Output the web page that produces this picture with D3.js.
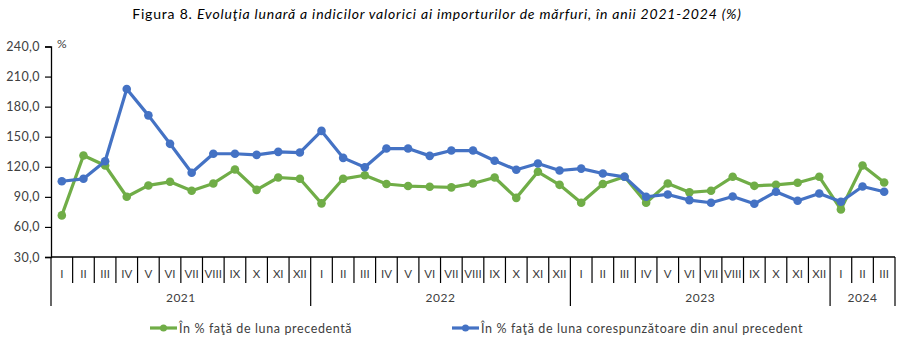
<!DOCTYPE html>
<html><head><meta charset="utf-8">
<script src="https://cdn.jsdelivr.net/npm/d3@7"></script>
<style>
body{margin:0;background:#fff;}
svg{display:block;font-family:Lato,"Open Sans",sans-serif;}
</style></head>
<body><svg id="c" width="897" height="343"></svg>
<script>
const months = ["I","II","III","IV","V","VI","VII","VIII","IX","X","XI","XII",
"I","II","III","IV","V","VI","VII","VIII","IX","X","XI","XII",
"I","II","III","IV","V","VI","VII","VIII","IX","X","XI","XII",
"I","II","III"];
const years = ["2021","2022","2023","2024"];
const yearCounts = [12,12,12,3];
const prevMonth = [71.5,131.2,121.3,90.1,101.4,105,96.1,103.4,117.3,97,109.3,108,
83.5,108,111.6,102.8,100.8,100.1,99.5,103.4,109.3,89,115,102,
84.1,102.8,110,84.1,103.4,94.5,96.1,110,101,102,104,110,
77.5,121.3,104.3];
const prevYear = [105.6,108,125.5,197.6,171.3,142.9,114,133,133,131.9,134.9,134.2,
155.8,128.9,119.6,138.2,138.2,130.9,136.2,136.2,126,117,123.3,116.3,
118.2,113.3,110,90.1,92.4,86.7,84.1,90.4,83.1,95.1,86.1,93.4,
85.1,100.4,95.1];
const yTicks = [30,60,90,120,150,180,210,240];
const seriesNames = ["În % faţă de luna precedentă","În % faţă de luna corespunzătoare din anul precedent"];
const colors = ["#70AD47","#4472C4"];

(function(){
const svg = d3.select("#c");
const L = 51, R = 895, T = 46.5, B = 257;
const idx = months.map((m,i)=>i);
const x = d3.scaleBand().domain(idx).range([L,R]).padding(0);
const y = d3.scaleLinear().domain([30,240]).range([B,T]);
const txt = "#404040";

// title
const title = svg.append("text").attr("x",437).attr("y",19).attr("text-anchor","middle")
  .attr("font-size",14).attr("letter-spacing",0.8).attr("fill","#000");
title.append("tspan").text("Figura 8. ");
title.append("tspan").attr("font-style","italic").text("Evoluţia lunară a indicilor valorici ai importurilor de mărfuri, în anii 2021-2024 (%)");

// y axis
const loc = d3.formatLocale({decimal:",",thousands:".",grouping:[3],currency:["",""]});
const fmt = loc.format(".1f");
const ya = svg.append("g").attr("transform",`translate(${L},0)`)
  .call(d3.axisLeft(y).tickValues(yTicks).tickFormat(fmt).tickSize(6).tickPadding(5));
ya.select(".domain").attr("stroke","#000").attr("stroke-width",1.3);
ya.selectAll(".tick line").attr("stroke","#000").attr("stroke-width",1.2);
ya.selectAll(".tick text").attr("font-size",12.5).attr("letter-spacing",0.4).attr("fill",txt).attr("font-family","Lato,sans-serif");

svg.append("text").attr("x",57).attr("y",48).attr("font-size",12).attr("fill",txt).text("%");

// x axis
const xa = svg.append("g");
xa.append("line").attr("x1",L).attr("x2",R).attr("y1",B).attr("y2",B)
  .attr("stroke","#000").attr("stroke-width",1.3);
let starts = []; let acc = 0;
yearCounts.forEach(c=>{starts.push(acc); acc+=c;});
const yearBoundaries = new Set(starts.concat([months.length]));
for(let i=0;i<=months.length;i++){
  const xx = i<months.length ? x(i) : x(months.length-1)+x.bandwidth();
  const long = yearBoundaries.has(i);
  xa.append("line").attr("x1",xx).attr("x2",xx).attr("y1",B).attr("y2",long?306:283)
    .attr("stroke","#000").attr("stroke-width",1.2);
}
xa.selectAll("text.m").data(months).enter().append("text").attr("class","m")
  .attr("x",(d,i)=>x(i)+x.bandwidth()/2).attr("y",278).attr("text-anchor","middle")
  .attr("font-size",11.5).attr("fill",txt).text(d=>d);
xa.selectAll("text.yr").data(years).enter().append("text").attr("class","yr")
  .attr("x",(d,i)=>{const s=x(starts[i]); const e=x(starts[i]+yearCounts[i]-1)+x.bandwidth(); return (s+e)/2;})
  .attr("y",302).attr("text-anchor","middle").attr("font-size",12).attr("letter-spacing",0.5).attr("fill",txt).text(d=>d);

// lines
const line = d3.line().x((d,i)=>x(i)+x.bandwidth()/2).y(d=>y(d));
[prevMonth,prevYear].forEach((data,k)=>{
  const g = svg.append("g");
  g.append("path").datum(data).attr("d",line).attr("fill","none").attr("stroke",colors[k])
    .attr("stroke-width",3.2).attr("stroke-linejoin","round");
  g.selectAll("circle").data(data).enter().append("circle")
    .attr("cx",(d,i)=>x(i)+x.bandwidth()/2).attr("cy",d=>y(d)).attr("r",4.3).attr("fill",colors[k]);
});

// legend
const legX = [150,452];
seriesNames.forEach((n,k)=>{
  const g = svg.append("g").attr("transform",`translate(${legX[k]},328)`);
  g.append("line").attr("x1",0).attr("x2",27).attr("y1",0).attr("y2",0).attr("stroke",colors[k]).attr("stroke-width",3.2);
  g.append("circle").attr("cx",13.5).attr("cy",0).attr("r",3.5).attr("fill",colors[k]);
  g.append("text").attr("x",29).attr("y",4.5).attr("font-size",12.5).attr("letter-spacing",0.62).attr("fill",txt).text(n);
});
})();
</script></body></html>
